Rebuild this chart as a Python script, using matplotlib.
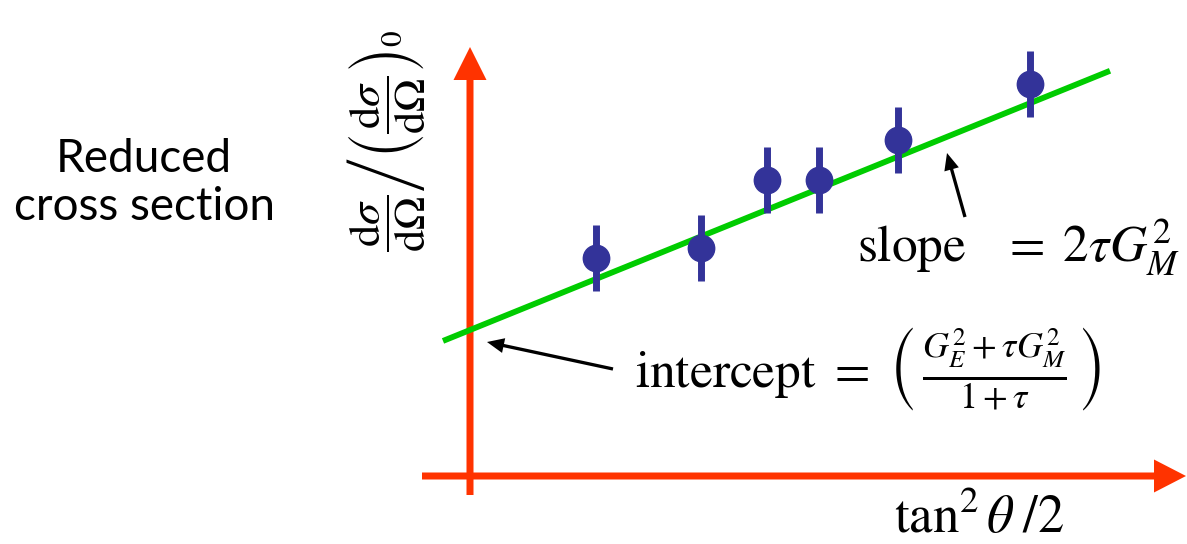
"""Rosenbluth separation sketch: reduced cross section versus tan^2(theta/2)."""

import matplotlib

matplotlib.use("Agg")
import matplotlib.pyplot as plt
import numpy as np

plt.rcParams["mathtext.fontset"] = "stix"

# measured reduced cross sections (arbitrary units)
tan2_half_theta = [1.26, 2.31, 2.97, 3.49, 4.28, 5.60]
reduced_xsec = [2.18, 2.28, 2.96, 2.96, 3.36, 3.92]
reduced_err = [0.33, 0.33, 0.33, 0.33, 0.33, 0.33]

# straight-line fit: intercept + slope * tan^2(theta/2)
fit_intercept = 1.46
fit_slope = 0.405
fit_range = [-0.27, 6.40]

AXIS_RED = "#ff3300"
FIT_GREEN = "#00cc00"
POINT_BLUE = "#333399"


def main() -> None:
    fig = plt.figure(figsize=(11.87, 5.44), dpi=100)
    ax = fig.add_axes([0, 0, 1, 1])
    ax.set_xlim(-4.70, 7.17)
    ax.set_ylim(-0.68, 4.76)
    ax.set_axis_off()

    # hand-drawn style axes with arrow heads
    ax.arrow(-0.48, 0, 7.64, 0, width=0.07, head_width=0.33, head_length=0.32,
             length_includes_head=True, color=AXIS_RED, lw=0)
    ax.arrow(0, -0.19, 0, 4.48, width=0.07, head_width=0.33, head_length=0.33,
             length_includes_head=True, color=AXIS_RED, lw=0)

    xs = np.array(fit_range)
    ax.plot(xs, fit_intercept + fit_slope * xs, color=FIT_GREEN, lw=4.2,
            solid_capstyle="butt", zorder=3)

    ax.errorbar(tan2_half_theta, reduced_xsec, yerr=reduced_err, fmt="o",
                color=POINT_BLUE, ms=19, elinewidth=5, capsize=0, zorder=4)

    # annotations
    ax.arrow(1.43, 1.07, -1.26, 0.27, width=0.033, head_width=0.15,
             head_length=0.17, length_includes_head=True, color="black", lw=0)
    ax.arrow(4.95, 2.59, -0.18, 0.64, width=0.033, head_width=0.15,
             head_length=0.17, length_includes_head=True, color="black", lw=0)

    ax.text(3.87, 2.14, r"$\mathrm{slope}\quad= \;2\tau G_M^2$", fontsize=37,
            ha="left", va="baseline")
    ax.text(1.65, 0.88,
            r"$\mathrm{intercept}\ =\ \left(\,\frac{G_E^2+\tau G_M^2}{1+\tau}\,\right)$",
            fontsize=37, ha="left", va="baseline")
    ax.text(5.94, -0.57, r"$\tan^2\theta\;/2$", fontsize=38, ha="right",
            va="baseline")
    ax.text(-0.84, 3.35,
            r"$\left.\dfrac{\mathrm{d}\sigma}{\mathrm{d}\Omega}\right/"
            r"\left(\dfrac{\mathrm{d}\sigma}{\mathrm{d}\Omega}\right)_0$",
            fontsize=32, rotation=90, ha="center", va="center")
    ax.text(-3.26, 2.93, "Reduced\ncross section", family="Lato", fontsize=33,
            ha="center", va="center", linespacing=1.15)

    fig.savefig("out.png", dpi=100)


if __name__ == "__main__":
    main()
